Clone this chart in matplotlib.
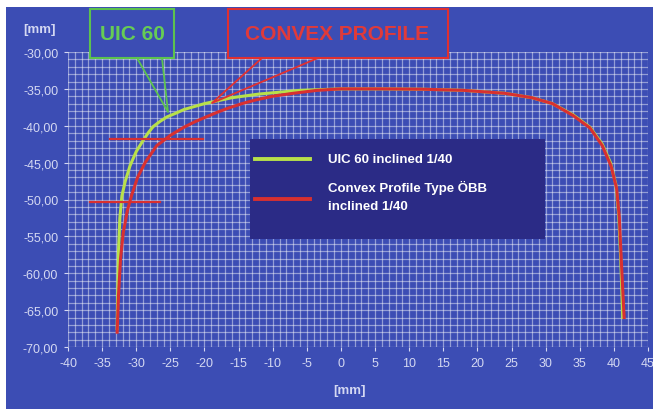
import matplotlib.pyplot as plt
from matplotlib.patches import Rectangle
from matplotlib.ticker import MultipleLocator, FuncFormatter

plt.rcParams['font.family'] = ['Liberation Sans', 'DejaVu Sans']

# UIC 60 inclined 1/40 (mm)
uic_x = [-32.8, -32.7, -32.6, -32.4, -32.1, -31.6, -30.9, -30.0, -29.0, -28.2, -27.5, -26.5,
         -25.5, -24.2, -23.0, -21.5, -20.0, -18.0, -16.0, -12.0, -6.0, 0.0, 6.0, 12.0, 18.0,
         24.0, 28.0, 31.0, 34.0, 36.5, 38.3, 39.5, 40.3, 40.7, 41.0, 41.3]
uic_y = [-67.5, -62.0, -57.0, -52.5, -49.5, -47.5, -45.4, -43.5, -42.0, -40.9, -40.1, -39.4,
         -38.8, -38.3, -37.8, -37.4, -37.0, -36.6, -36.2, -35.7, -35.2, -35.0, -35.0, -35.05,
         -35.2, -35.6, -36.2, -37.0, -38.5, -40.2, -42.5, -45.0, -48.0, -52.0, -58.0, -66.0]

# Convex profile type OeBB inclined 1/40
cvx_x = [-32.8, -32.6, -32.3, -31.9, -31.3, -30.7, -29.8, -28.7, -27.0, -25.0, -23.0, -21.5,
         -20.0, -18.2, -16.5, -14.5, -12.5, -10.0, -7.0, -3.5, 0.0, 6.0, 12.0, 18.0, 24.0,
         28.0, 31.0, 34.0, 36.5, 38.3, 39.6, 40.4, 40.8, 41.1, 41.5]
cvx_y = [-68.0, -63.0, -58.0, -54.5, -51.5, -49.5, -47.0, -45.0, -42.7, -41.3, -40.2, -39.5,
         -38.9, -38.2, -37.6, -37.0, -36.5, -36.0, -35.6, -35.2, -35.0, -35.0, -35.05, -35.2,
         -35.6, -36.2, -37.0, -38.6, -40.3, -42.7, -45.5, -48.5, -52.5, -58.5, -66.0]

# red measuring marks: (x start, x end, y)
marks = [(-33.8, -20.2, -41.8), (-36.8, -26.5, -50.3)]

bg = '#3c4db4'
navy = '#2b2b86'
green = '#b8e04a'
red = '#d83030'
txt = '#d4d8f2'

fig = plt.figure(figsize=(6.53, 4.10), dpi=100, facecolor=bg)
# white margins at top and left
fig.patches.append(Rectangle((0, 1 - 8 / 410), 1, 8 / 410, transform=fig.transFigure,
                             facecolor='white', edgecolor='none', zorder=0))
fig.patches.append(Rectangle((0, 0), 6 / 653, 1, transform=fig.transFigure,
                             facecolor='white', edgecolor='none', zorder=0))

ax = fig.add_axes([68 / 653, 1 - 348 / 410, 580 / 653, 295 / 410])
ax.set_facecolor(bg)
ax.set_xlim(-40, 45)
ax.set_ylim(-70, -30)

ax.xaxis.set_major_locator(MultipleLocator(5))
ax.yaxis.set_major_locator(MultipleLocator(5))
ax.xaxis.set_minor_locator(MultipleLocator(1))
ax.yaxis.set_minor_locator(MultipleLocator(1))
ax.grid(True, which='both', color='white', alpha=0.45, linewidth=0.9)
ax.set_axisbelow(True)
for s in ax.spines.values():
    s.set_visible(False)
ax.tick_params(which='major', colors=txt, labelsize=9, length=3, pad=4)
ax.tick_params(which='minor', length=0)
ax.yaxis.set_major_formatter(FuncFormatter(lambda v, p: f'{v:.2f}'.replace('.', ',')))
ax.xaxis.set_major_formatter(FuncFormatter(lambda v, p: f'{v:.0f}'))

ax.plot(uic_x, uic_y, color=green, linewidth=2.2, zorder=3)
ax.plot(cvx_x, cvx_y, color=red, linewidth=2.2, zorder=4)
for x0, x1, y in marks:
    ax.plot([x0, x1], [y, y], color=red, linewidth=1.6, zorder=5)

# axis units
fig.text(40 / 653, 1 - 30 / 410, '[mm]', color=txt, fontsize=9.5, fontweight='bold',
         ha='center', va='center')
fig.text(349 / 653, 1 - 391 / 410, '[mm]', color=txt, fontsize=9.5, fontweight='bold',
         ha='center', va='center')

# legend box
ax.add_patch(Rectangle((0.314, 0.366), 0.508, 0.339, transform=ax.transAxes,
                       facecolor=navy, edgecolor='none', zorder=6))
ax.plot([0.323, 0.418], [0.637, 0.637], transform=ax.transAxes, color=green,
        linewidth=2.8, zorder=7)
ax.plot([0.323, 0.418], [0.502, 0.502], transform=ax.transAxes, color=red,
        linewidth=2.8, zorder=7)
ax.text(0.448, 0.637, 'UIC 60 inclined 1/40', transform=ax.transAxes, color='white',
        fontsize=9.5, fontweight='bold', va='center', zorder=7)
ax.text(0.448, 0.512, 'Convex Profile Type ÖBB\ninclined 1/40', transform=ax.transAxes,
        color='white', fontsize=9.5, fontweight='bold', va='center', linespacing=1.6,
        zorder=7)

# callout labels above the plot, in pixel-derived figure coords
def fx(px):
    return px / 653

def fy(py):
    return 1 - py / 410

fig.patches.append(Rectangle((fx(90), fy(59)), fx(174) - fx(90), fy(10) - fy(59),
                             transform=fig.transFigure, facecolor=bg, edgecolor='#5cc24e',
                             linewidth=1.5, zorder=5))
fig.text(fx(132), fy(34), 'UIC 60', color='#66cc55', fontsize=15, fontweight='bold',
         ha='center', va='center', zorder=6)
fig.lines.append(plt.Line2D([fx(137), fx(168), fx(162)], [fy(59), fy(113), fy(59)],
                            transform=fig.transFigure, color='#5cc24e', linewidth=1.3,
                            zorder=6))

fig.patches.append(Rectangle((fx(228), fy(59)), fx(448) - fx(228), fy(10) - fy(59),
                             transform=fig.transFigure, facecolor=bg, edgecolor='#e03030',
                             linewidth=1.5, zorder=5))
fig.text(fx(337), fy(34), 'CONVEX PROFILE', color='#e03a3a', fontsize=15, fontweight='bold',
         ha='center', va='center', zorder=6)
fig.lines.append(plt.Line2D([fx(262), fx(212), fx(318)], [fy(59), fy(104), fy(59)],
                            transform=fig.transFigure, color='#e03030', linewidth=1.3,
                            zorder=6))

fig.savefig('out.png', dpi=100, facecolor=fig.get_facecolor())
